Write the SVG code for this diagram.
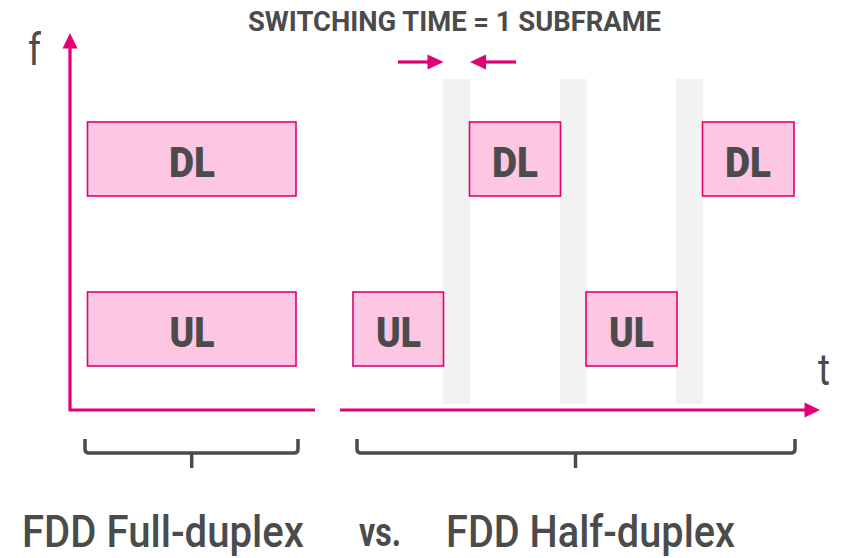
<svg xmlns="http://www.w3.org/2000/svg" width="843" height="558" viewBox="0 0 843 558">
  <defs>
    <style>
      .band { fill: #f2f2f2; }
      .box { fill: #fdc6e2; stroke: #e20074; stroke-width: 1.6; }
      .lbl { font-family: Roboto, "Liberation Sans", sans-serif; font-weight: 900; font-size: 42px; fill: #4b4b4b; text-anchor: middle; }
      .axis { fill: none; stroke: #e20074; stroke-width: 3.2; stroke-linejoin: miter; }
      .head { fill: #e20074; }
      .brace { fill: none; stroke: #4b4b4b; stroke-width: 3.5; stroke-linecap: butt; stroke-linejoin: round; }
      .axlbl { font-family: Roboto, "Liberation Sans", sans-serif; font-weight: 400; font-size: 45px; fill: #4b4b4b; }
      .caption { font-family: Roboto, "Liberation Sans", sans-serif; font-weight: 500; font-size: 45px; fill: #4b4b4b; }
      .vs { font-family: Roboto, "Liberation Sans", sans-serif; font-weight: 700; font-size: 40px; fill: #4b4b4b; }
      .title { font-family: Roboto, "Liberation Sans", sans-serif; font-weight: 700; font-size: 28px; fill: #4b4b4b; }
    </style>
  </defs>

  <!-- switching gaps (one subframe each) -->
  <g id="gaps">
    <rect class="band" x="443" y="79" width="27" height="325"/>
    <rect class="band" x="560" y="79" width="27" height="325"/>
    <rect class="band" x="676" y="79" width="27" height="325"/>
  </g>

  <!-- full-duplex blocks -->
  <g id="fd-dl">
    <rect class="box" x="87.5" y="122" width="208.5" height="74"/>
    <text class="lbl" x="192" y="177" textLength="46" lengthAdjust="spacingAndGlyphs">DL</text>
  </g>
  <g id="fd-ul">
    <rect class="box" x="87.5" y="292" width="208.5" height="74"/>
    <text class="lbl" x="192" y="347" textLength="45" lengthAdjust="spacingAndGlyphs">UL</text>
  </g>

  <!-- half-duplex blocks -->
  <g id="hd-ul-1">
    <rect class="box" x="353" y="292" width="90.5" height="74"/>
    <text class="lbl" x="398.5" y="347" textLength="45" lengthAdjust="spacingAndGlyphs">UL</text>
  </g>
  <g id="hd-dl-1">
    <rect class="box" x="469.5" y="122" width="91" height="74"/>
    <text class="lbl" x="515" y="177" textLength="46" lengthAdjust="spacingAndGlyphs">DL</text>
  </g>
  <g id="hd-ul-2">
    <rect class="box" x="586" y="292" width="91" height="74"/>
    <text class="lbl" x="631.5" y="347" textLength="45" lengthAdjust="spacingAndGlyphs">UL</text>
  </g>
  <g id="hd-dl-2">
    <rect class="box" x="702.5" y="122" width="91.5" height="74"/>
    <text class="lbl" x="748" y="177" textLength="46" lengthAdjust="spacingAndGlyphs">DL</text>
  </g>

  <!-- axes, switching-time arrows and braces -->
  <g id="connectors">
    <polyline class="axis" points="70,47 70,410 315,410"/>
    <polygon class="head" points="70,33 62.5,48.5 77.5,48.5"/>
    <line class="axis" x1="340" y1="410" x2="806" y2="410"/>
    <polygon class="head" points="820,410 804.5,402.5 804.5,417.5"/>

    <line class="axis" x1="398" y1="62" x2="429" y2="62"/>
    <polygon class="head" points="443.5,62 427.5,54.5 427.5,69.5"/>
    <line class="axis" x1="485" y1="62" x2="516" y2="62"/>
    <polygon class="head" points="470,62 486,54.5 486,69.5"/>

    <path class="brace" d="M85,439 V449 Q85,453 89,453 H294 Q298,453 298,449 V439"/>
    <line class="brace" x1="191.7" y1="453" x2="191.7" y2="468"/>
    <path class="brace" d="M357,439 V449 Q357,453 361,453 H791 Q795,453 795,449 V439"/>
    <line class="brace" x1="575.5" y1="453" x2="575.5" y2="468"/>
  </g>

  <!-- axis and caption texts -->
  <g id="labels">
    <text class="title" x="248" y="31" textLength="413" lengthAdjust="spacingAndGlyphs">SWITCHING TIME = 1 SUBFRAME</text>
    <text class="axlbl" x="28" y="65" textLength="13" lengthAdjust="spacingAndGlyphs">f</text>
    <text class="axlbl" x="818" y="385" textLength="12" lengthAdjust="spacingAndGlyphs">t</text>
    <text class="caption" x="22" y="547" textLength="282" lengthAdjust="spacingAndGlyphs">FDD Full-duplex</text>
    <text class="vs" x="359" y="546" textLength="42" lengthAdjust="spacingAndGlyphs">vs.</text>
    <text class="caption" x="446" y="547" textLength="289" lengthAdjust="spacingAndGlyphs">FDD Half-duplex</text>
  </g>
</svg>
